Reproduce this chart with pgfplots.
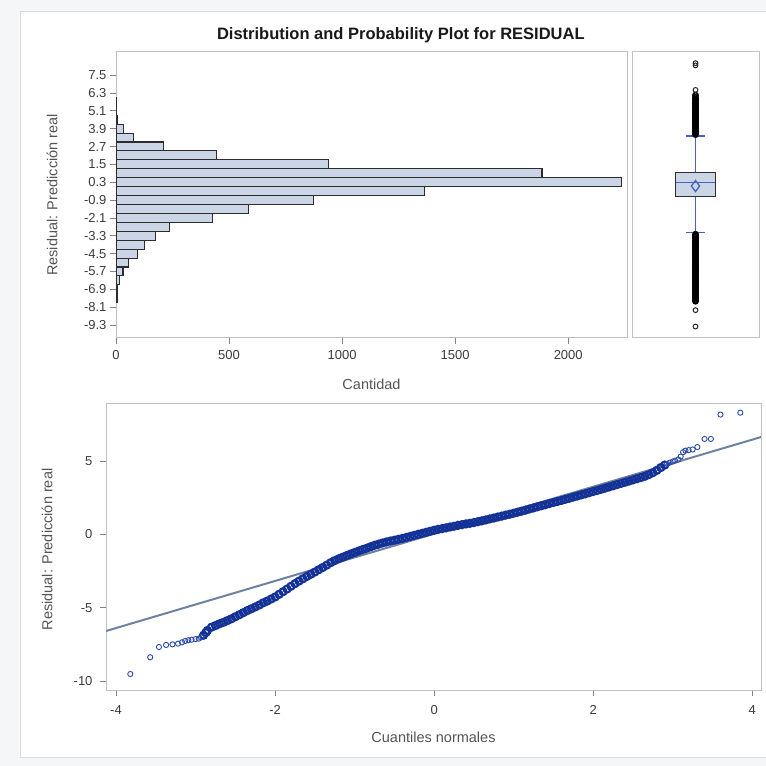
\documentclass[border=0pt]{standalone}
\usepackage{fontspec}
\setmainfont{Liberation Sans}
\usepackage{pgfplots}
\pgfplotsset{compat=1.18}

\definecolor{barfill}{RGB}{202,213,229}
\definecolor{baredge}{RGB}{45,45,45}
\definecolor{framegray}{RGB}{192,192,192}
\definecolor{tickgray}{RGB}{130,130,130}
\definecolor{labgray}{RGB}{85,85,85}
\definecolor{ticklab}{RGB}{60,60,60}
\definecolor{qqblue}{RGB}{20,50,150}
\definecolor{qqtail}{RGB}{45,75,170}
\definecolor{refline}{RGB}{110,130,160}
\definecolor{whiskblue}{RGB}{70,100,190}
\definecolor{pagebg}{RGB}{245,246,248}
\definecolor{panelline}{RGB}{218,222,228}

\pgfplotsset{
 sasaxis/.style={
   scale only axis,
   axis line style={draw=framegray, line width=1pt},
   tick align=outside,
   tick pos=left,
   major tick length=6pt,
   tick style={draw=tickgray, line width=0.8pt},
   tick label style={font=\fontsize{13}{15}\selectfont, text=ticklab},
   label style={font=\fontsize{14.5}{16}\selectfont, text=labgray},
 }
}

\begin{document}
\begin{tikzpicture}
\useasboundingbox (0,0) rectangle (766pt,766pt);
\fill[pagebg] (0,0) rectangle (766pt,766pt);
\filldraw[fill=white, draw=panelline, line width=1pt] (20pt,8pt) rectangle (770pt,754pt);

\node[font=\bfseries\fontsize{16.5}{19}\selectfont, text=black!90] at (400.8pt,730.3pt) {Distribution and Probability Plot for RESIDUAL};

% Histogram
\begin{axis}[sasaxis, at={(116pt,428pt)}, anchor=south west,
  width=511pt, height=286pt,
  xmin=0, xmax=2260, ymin=-10.17, ymax=9.05,
  xtick={0,500,1000,1500,2000}, xticklabels={0,500,1000,1500,2000},
  xticklabel style={yshift=-3pt},
  ytick={7.5,6.3,5.1,3.9,2.7,1.5,0.3,-0.9,-2.1,-3.3,-4.5,-5.7,-6.9,-8.1,-9.3},
  yticklabels={7.5,6.3,5.1,3.9,2.7,1.5,0.3,-0.9,-2.1,-3.3,-4.5,-5.7,-6.9,-8.1,-9.3},
  xlabel={Cantidad}, ylabel={Residual: Predicción real},
  xlabel style={at={(axis description cs:0.5,-0.161)}, anchor=center},
  ylabel style={at={(axis description cs:-0.1252,0.5)}, anchor=center},
]
\addplot[xbar, bar width=0.6, bar shift=0pt, fill=barfill, draw=baredge, line width=1.1pt]
 coordinates {(3,5.7) (4,5.1) (8,4.5) (33,3.9) (77,3.3) (210,2.7) (445,2.1) (940,1.5)
 (1884,0.9) (2236,0.3) (1366,-0.3) (872,-0.9) (585,-1.5) (427,-2.1) (238,-2.7) (176,-3.3)
 (128,-3.9) (95,-4.5) (56,-5.1) (31,-5.7) (15,-6.3) (8,-6.9) (5,-7.5)};
\end{axis}

% Box plot
\begin{axis}[sasaxis, at={(632pt,428pt)}, anchor=south west,
  width=127pt, height=286pt,
  xmin=-1.6, xmax=1.6, ymin=-10.17, ymax=9.05,
  xtick=\empty, ytick=\empty]
% whiskers and caps
\addplot[whiskblue, line width=1.6pt] coordinates {(0,0.98) (0,3.4)};
\addplot[whiskblue, line width=1.4pt] coordinates {(-0.25,3.4) (0.25,3.4)};
\addplot[whiskblue, line width=1.6pt] coordinates {(0,-0.68) (0,-3.1)};
\addplot[whiskblue, line width=1.4pt] coordinates {(-0.25,-3.1) (0.25,-3.1)};
% box (quartiles -0.68 and 0.98)
\addplot[fill=barfill, draw=baredge, line width=1.1pt]
 coordinates {(-0.5,-0.68) (0.5,-0.68) (0.5,0.98) (-0.5,0.98)} -- cycle;
% median
\addplot[whiskblue, line width=1.4pt] coordinates {(-0.5,0.28) (0.5,0.28)};
% outliers
\addplot[only marks, mark=o, mark size=2.6pt, mark options={draw=black, line width=1.6pt}]
 coordinates {(0,3.5)(0,3.6)(0,3.7)(0,3.8)(0,3.9)(0,4.0)(0,4.1)(0,4.2)(0,4.3)(0,4.4)
 (0,4.5)(0,4.6)(0,4.7)(0,4.8)(0,4.9)(0,5.0)(0,5.1)(0,5.2)(0,5.3)(0,5.4)(0,5.5)(0,5.6)
 (0,5.7)(0,5.8)(0,5.9)(0,6.0)(0,6.15)
 (0,-3.2)(0,-3.3)(0,-3.4)(0,-3.5)(0,-3.6)(0,-3.7)(0,-3.8)(0,-3.9)(0,-4.0)(0,-4.1)
 (0,-4.2)(0,-4.3)(0,-4.4)(0,-4.5)(0,-4.6)(0,-4.7)(0,-4.8)(0,-4.9)(0,-5.0)(0,-5.1)
 (0,-5.2)(0,-5.3)(0,-5.4)(0,-5.5)(0,-5.6)(0,-5.7)(0,-5.8)(0,-5.9)(0,-6.0)(0,-6.1)
 (0,-6.2)(0,-6.3)(0,-6.4)(0,-6.5)(0,-6.6)(0,-6.7)(0,-6.8)(0,-6.9)(0,-7.0)(0,-7.1)
 (0,-7.2)(0,-7.3)(0,-7.4)(0,-7.5)(0,-7.6)(0,-7.7)};
\addplot[only marks, mark=o, mark size=2.4pt, mark options={draw=black!85, line width=1pt}]
 coordinates {(0,6.5)(0,8.15)(0,8.3)(0,-8.3)(0,-9.4)};
% mean
\addplot[only marks, mark=diamond, mark size=5.5pt, mark options={draw=whiskblue, fill=barfill, line width=1.3pt}]
 coordinates {(0,0.04)};
\end{axis}

% Q-Q plot
\begin{axis}[sasaxis, at={(106pt,76pt)}, anchor=south west,
  width=655pt, height=286.7pt,
  xmin=-4.126, xmax=4.11, ymin=-10.61, ymax=8.93,
  xtick={-4,-2,0,2,4}, xticklabels={-4,-2,0,2,4},
  xticklabel style={yshift=-6pt},
  ytick={-10,-5,0,5}, yticklabels={-10,-5,0,5},
  yticklabel style={xshift=-4pt},
  xlabel={Cuantiles normales}, ylabel={Residual: Predicción real},
  xlabel style={at={(axis description cs:0.5,-0.164)}, anchor=center},
  ylabel style={at={(axis description cs:-0.090,0.49)}, anchor=center},
  clip=true]
\addplot[refline, line width=2pt] coordinates {(-4.126,-6.59) (4.11,6.63)};
\addplot[only marks, mark=o, mark size=3.5pt, mark options={draw=qqblue, line width=2.2pt}]
 coordinates {(-2.90,-6.88)(-2.87,-6.70)(-2.85,-6.55)(-2.80,-6.33)(-2.75,-6.22)(-2.70,-6.10)
 (-2.65,-6.00)(-2.60,-5.88)(-2.55,-5.76)(-2.50,-5.62)(-2.45,-5.48)(-2.40,-5.34)(-2.35,-5.20)
 (-2.30,-5.08)(-2.25,-4.95)(-2.20,-4.82)(-2.15,-4.67)(-2.10,-4.55)(-2.05,-4.41)(-2.00,-4.27)
 (-1.95,-4.09)(-1.90,-3.91)(-1.85,-3.73)(-1.80,-3.54)(-1.75,-3.36)(-1.70,-3.19)(-1.65,-3.03)
 (-1.60,-2.87)(-1.55,-2.72)(-1.50,-2.57)(-1.45,-2.41)(-1.40,-2.26)(-1.35,-2.10)(-1.30,-1.93)
 (-1.25,-1.79)(-1.20,-1.67)(-1.15,-1.56)(-1.10,-1.45)(-1.05,-1.34)(-1.00,-1.24)(-0.95,-1.14)
 (-0.90,-1.04)(-0.85,-0.95)(-0.80,-0.85)(-0.75,-0.75)(-0.70,-0.67)(-0.65,-0.59)(-0.60,-0.52)
 (-0.55,-0.46)(-0.50,-0.40)(-0.45,-0.34)(-0.40,-0.28)(-0.35,-0.21)(-0.30,-0.14)(-0.25,-0.07)
 (-0.20,0.00)(-0.15,0.07)(-0.10,0.14)(-0.05,0.21)(0.00,0.28)(0.05,0.34)(0.10,0.39)(0.15,0.44)
 (0.20,0.50)(0.25,0.55)(0.30,0.61)(0.35,0.66)(0.40,0.71)(0.45,0.75)(0.50,0.80)(0.55,0.86)
 (0.60,0.92)(0.65,0.98)(0.70,1.05)(0.75,1.11)(0.80,1.18)(0.85,1.24)(0.90,1.31)(0.95,1.37)
 (1.00,1.44)(1.05,1.51)(1.10,1.58)(1.15,1.65)(1.20,1.73)(1.25,1.80)(1.30,1.88)(1.35,1.95)
 (1.40,2.02)(1.45,2.10)(1.50,2.17)(1.55,2.24)(1.60,2.31)(1.65,2.39)(1.70,2.46)(1.75,2.54)
 (1.80,2.61)(1.85,2.69)(1.90,2.76)(1.95,2.84)(2.00,2.92)(2.05,2.99)(2.10,3.07)(2.15,3.15)
 (2.20,3.23)(2.25,3.31)(2.30,3.39)(2.35,3.47)(2.40,3.55)(2.45,3.63)(2.50,3.71)(2.55,3.79)
 (2.60,3.87)(2.65,3.96)(2.70,4.07)(2.75,4.20)(2.80,4.36)(2.85,4.55)(2.90,4.72)};
\addplot[only marks, mark=o, mark size=2.6pt, mark options={draw=qqtail, line width=0.9pt}]
 coordinates {(-3.82,-9.52)(-3.57,-8.38)(-3.46,-7.68)(-3.37,-7.54)(-3.29,-7.50)(-3.22,-7.45)
 (-3.17,-7.36)(-3.13,-7.27)(-3.09,-7.22)(-3.05,-7.18)(-3.00,-7.14)(-2.96,-7.11)(-2.93,-7.02)
 (2.93,4.80)(2.96,4.88)(3.00,4.96)(3.03,5.02)(3.07,5.10)(3.10,5.30)(3.13,5.60)(3.16,5.70)
 (3.20,5.74)(3.25,5.78)(3.31,5.95)(3.40,6.50)(3.48,6.50)(3.60,8.16)(3.85,8.29)};
\end{axis}
\end{tikzpicture}
\end{document}
